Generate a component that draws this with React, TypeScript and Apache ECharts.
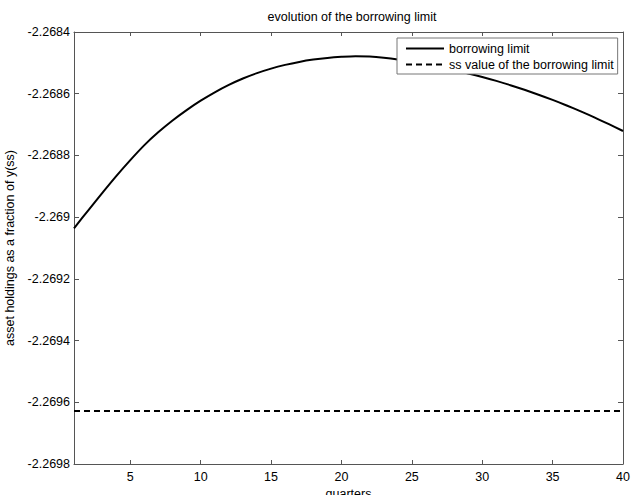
import React, { useEffect, useRef } from "react";
import * as echarts from "echarts";

const quarters = [1,2,3,4,5,6,7,8,9,10,11,12,13,14,15,16,17,18,19,20,21,22,23,24,25,26,27,28,29,30,31,32,33,34,35,36,37,38,39,40];
const borrowingLimit = [
  -2.2690362, -2.2689785, -2.2689221, -2.268867, -2.2688151, -2.2687665, -2.2687244, -2.2686868,
  -2.2686531, -2.2686226, -2.2685954, -2.2685714, -2.2685507, -2.2685332, -2.2685186, -2.2685066,
  -2.2684969, -2.2684894, -2.2684839, -2.2684804, -2.2684784, -2.2684797, -2.2684836, -2.2684894,
  -2.2684972, -2.268505, -2.2685138, -2.2685235, -2.2685342, -2.2685458, -2.2685585, -2.2685724,
  -2.2685873, -2.2686032, -2.2686201, -2.2686382, -2.2686573, -2.2686774, -2.2686988, -2.2687208,
];
const ssValue = -2.269628;
const xTicks = [5, 10, 15, 20, 25, 30, 35, 40];
const yTicks = [-2.2698, -2.2696, -2.2694, -2.2692, -2.269, -2.2688, -2.2686, -2.2684];

const FONT = "'Liberation Sans', Arial, sans-serif";
const FS = 12.5;
const AXIS_COLOR = "#555";

export default function App() {
  const ref = useRef<HTMLDivElement>(null);
  useEffect(() => {
    if (!ref.current) return;
    const chart = echarts.init(ref.current, null, { renderer: "svg" });
    const xBase = {
      type: "value" as const,
      min: 1,
      max: 40,
      splitLine: { show: false },
      axisLine: { show: true, onZero: false, lineStyle: { color: AXIS_COLOR, width: 1 } },
      axisTick: { show: true, inside: true, length: 4, customValues: xTicks, lineStyle: { color: AXIS_COLOR } },
    };
    const yBase = {
      type: "value" as const,
      min: -2.2698,
      max: -2.2684,
      scale: true,
      splitLine: { show: false },
      axisLine: { show: true, onZero: false, lineStyle: { color: AXIS_COLOR, width: 1 } },
      axisTick: { show: true, inside: true, length: 5, customValues: yTicks, lineStyle: { color: AXIS_COLOR } },
    };
    chart.setOption({
      animation: false,
      backgroundColor: "#fff",
      textStyle: { fontFamily: FONT },
      title: {
        text: "evolution of the borrowing limit",
        left: 347,
        textAlign: "center",
        top: 5,
        textStyle: { fontSize: FS, fontWeight: "normal", color: "#000", fontFamily: FONT },
      },
      legend: {
        orient: "vertical",
        left: 397,
        top: 38,
        padding: [4, 4, 3, 8],
        itemWidth: 38,
        itemHeight: 12,
        itemGap: 3,
        backgroundColor: "#fff",
        borderColor: "#777",
        borderWidth: 1,
        borderRadius: 0,
        itemStyle: { opacity: 0 },
        textStyle: { fontSize: FS, color: "#000", fontFamily: FONT },
        data: ["borrowing limit", "ss value of the borrowing limit"],
      },
      grid: { left: 74, right: 8, top: 32, bottom: 31, containLabel: false, outerBoundsMode: "none" },
      xAxis: [
        {
          ...xBase,
          position: "bottom",
          name: "quarters",
          nameLocation: "middle",
          nameGap: 19,
          nameTextStyle: { fontSize: FS, color: "#000", fontFamily: FONT },
          axisLabel: { show: true, customValues: xTicks, margin: 6, fontSize: FS, color: "#000", fontFamily: FONT },
        },
        { ...xBase, position: "top", axisLabel: { show: false } },
      ],
      yAxis: [
        {
          ...yBase,
          position: "left",
          name: "asset holdings as a fraction of y(ss)",
          nameLocation: "middle",
          nameGap: 52,
          nameTextStyle: { fontSize: FS, color: "#000", fontFamily: FONT },
          axisLabel: {
            show: true,
            customValues: yTicks,
            margin: 4,
            fontSize: FS,
            color: "#000",
            fontFamily: FONT,
            formatter: (v: number) => String(parseFloat(v.toFixed(4))),
          },
        },
        { ...yBase, position: "right", axisLabel: { show: false } },
      ],
      series: [
        {
          name: "borrowing limit",
          type: "line",
          xAxisIndex: 0,
          yAxisIndex: 0,
          symbol: "none",
          smooth: 0.3,
          data: quarters.map((q, i) => [q, borrowingLimit[i]]),
          lineStyle: { color: "#000", width: 2 },
          itemStyle: { color: "#000" },
        },
        {
          name: "ss value of the borrowing limit",
          type: "line",
          xAxisIndex: 0,
          yAxisIndex: 0,
          symbol: "none",
          data: [
            [quarters[0], ssValue],
            [quarters[quarters.length - 1], ssValue],
          ],
          lineStyle: { color: "#000", width: 2, type: [6, 4] },
          itemStyle: { color: "#000" },
        },
      ],
    });
    return () => chart.dispose();
  }, []);
  return (
    <div
      ref={ref}
      style={{ position: "fixed", left: 0, top: 0, width: 631, height: 495 }}
    />
  );
}
